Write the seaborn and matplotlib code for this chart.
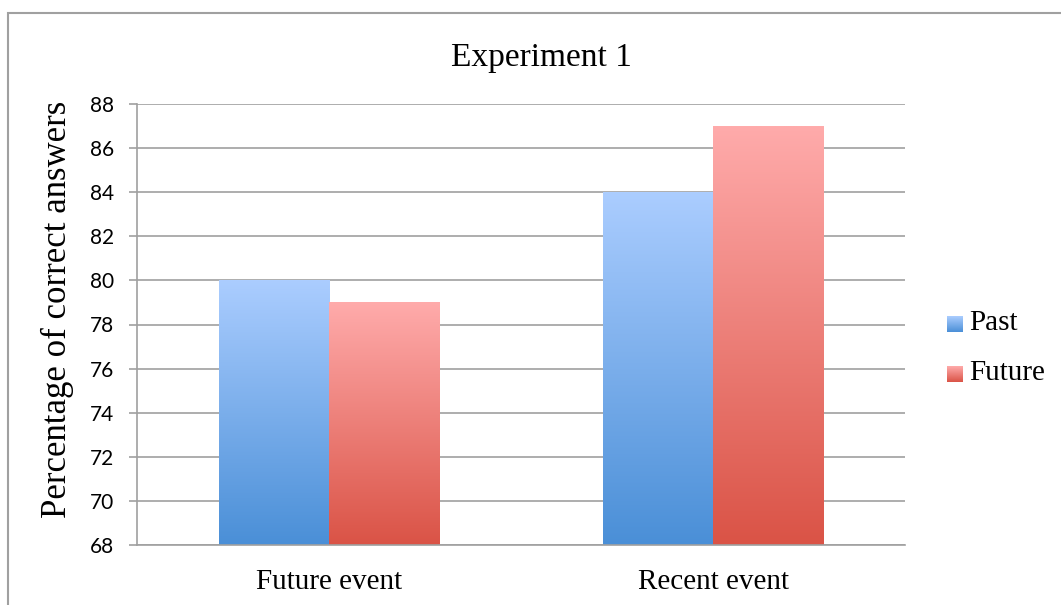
import numpy as np
import pandas as pd
import matplotlib
matplotlib.use('Agg')
import matplotlib.pyplot as plt
from matplotlib.colors import LinearSegmentedColormap
from matplotlib.patches import Rectangle
import seaborn as sns

categories = ['Future event', 'Recent event']
tenses = ['Past', 'Future']
past_values = [80, 84]
future_values = [79, 87]
y_ticks = [68, 70, 72, 74, 76, 78, 80, 82, 84, 86, 88]

df = pd.DataFrame({
    'event': categories * 2,
    'tense': ['Past'] * 2 + ['Future'] * 2,
    'value': past_values + future_values,
})

# gradient colours, top -> bottom
grads = {
    'Past': ('#abcdff', '#4a8fd7'),
    'Future': ('#ffabab', '#da5346'),
}
cmaps = {k: LinearSegmentedColormap.from_list(k, [v[1], v[0]]) for k, v in grads.items()}

sns.set_style('white')
plt.rcParams['font.family'] = ['Liberation Serif', 'DejaVu Serif']
plt.rcParams['text.color'] = 'black'
plt.rcParams['axes.labelcolor'] = 'black'
plt.rcParams['xtick.labelcolor'] = 'black'
plt.rcParams['ytick.labelcolor'] = 'black'

fig = plt.figure(figsize=(10.61, 6.05), dpi=100)
ax = fig.add_axes([137 / 1061, 1 - 545 / 605, (905 - 137) / 1061, (545 - 104) / 605])

sns.barplot(data=df, x='event', y='value', hue='tense', hue_order=tenses,
            order=categories, width=0.575, legend=False, ax=ax,
            palette={'Past': '#4a8fd7', 'Future': '#da5346'}, saturation=1)

ax.set_ylim(68, 88)
ax.set_xlim(-0.5, 1.5)
ax.set_yticks(y_ticks)
ax.set_yticklabels([str(t) for t in y_ticks], fontfamily='Lato', fontsize=15)
ax.set_xticks([0, 1])
ax.set_xticklabels(categories, fontsize=21)
ax.set_xticks([-0.5, 0.5, 1.5], minor=True)
ax.tick_params(axis='x', which='major', length=0, pad=17)
ax.tick_params(axis='x', which='minor', length=6, width=1.2, color='#a0a0a0', direction='out')
ax.tick_params(axis='y', length=5.5, width=1.2, color='#a0a0a0', direction='out', pad=11, left=True)

ax.yaxis.grid(True, color='#a0a0a0', lw=1.2)
ax.set_axisbelow(True)
for s in ['top', 'right']:
    ax.spines[s].set_visible(False)
for s in ['left', 'bottom']:
    ax.spines[s].set_color('#a0a0a0')
    ax.spines[s].set_linewidth(1.2)

ax.set_xlabel('')
ax.set_ylabel('Percentage of correct answers', fontsize=25)
ax.yaxis.set_label_coords(-0.082, 0.535)

# gradient fill for each bar
grad = np.linspace(0, 1, 256).reshape(-1, 1)
for i, bar in enumerate(ax.patches):
    tense = tenses[i // len(categories)]
    x0 = bar.get_x()
    w = bar.get_width()
    h = bar.get_height()
    im = ax.imshow(grad, cmap=cmaps[tense], origin='lower', aspect='auto',
                   extent=[x0, x0 + w, 68, h], zorder=bar.get_zorder() + 0.1)
    im.set_clip_path(bar)
    bar.set_facecolor('none')
    bar.set_edgecolor('none')
ax.set_xlim(-0.5, 1.5)
ax.set_ylim(68, 88)

fig.text(541 / 1061, 1 - 58 / 605, 'Experiment 1', fontsize=24, ha='center', va='center')

# legend
leg_y = [323, 373]
for tense, yc in zip(tenses, leg_y):
    lax = fig.add_axes([947 / 1061, 1 - (yc + 9) / 605, 16 / 1061, 16 / 605])
    lax.imshow(grad, cmap=cmaps[tense], origin='lower', aspect='auto')
    lax.set_axis_off()
    fig.text(969 / 1061, 1 - yc / 605, tense, fontsize=21, ha='left', va='center')

# chart frame
fig.add_artist(Rectangle((8 / 1061, -0.1), 1.2, 1.1 - 13 / 605, transform=fig.transFigure,
                         fill=False, edgecolor='#a0a0a0', lw=1.5))

fig.savefig('out.png', dpi=100)
